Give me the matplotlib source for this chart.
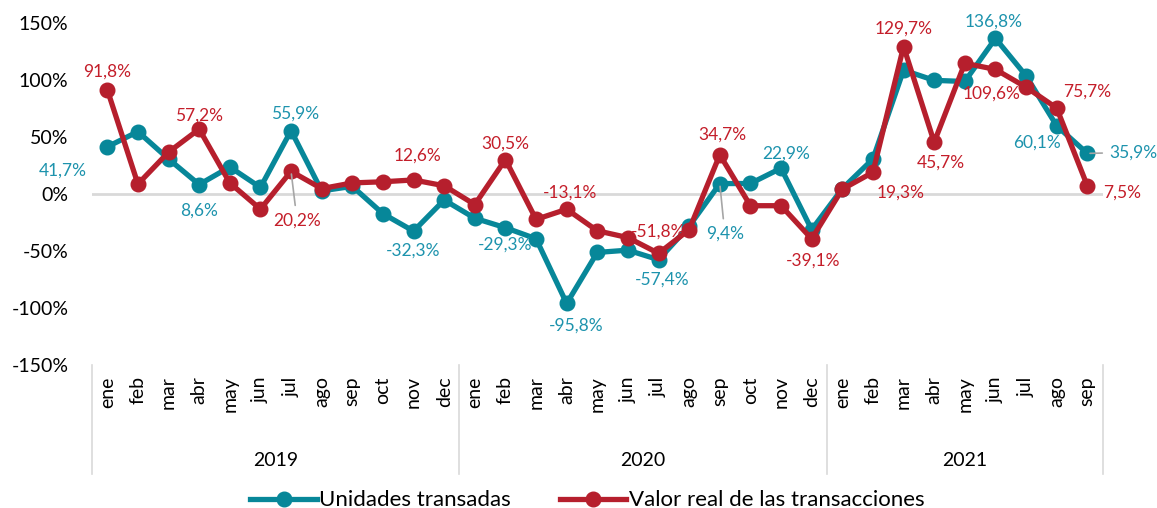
import numpy as np
import matplotlib.pyplot as plt
from matplotlib.lines import Line2D

plt.rcParams['font.family'] = ['Lato', 'DejaVu Sans']

# datos
meses = ["ene", "feb", "mar", "abr", "may", "jun", "jul", "ago", "sep", "oct", "nov", "dec"]
anios = ["2019", "2020", "2021"]
n_meses = [12, 12, 9]

unidades = [41.7, 55, 31, 8.6, 24, 6, 55.9, 3, 7, -17, -32.3, -5,
            -21, -29.3, -39, -95.8, -51, -49, -57.4, -28, 9.4, 9.5, 22.9, -31,
            5, 31, 109, 100, 99, 136.8, 104, 60.1, 35.9]
valor_real = [91.8, 9, 37, 57.2, 10, -13, 20.2, 5, 10, 11, 12.6, 7.5,
              -9, 30.5, -22, -13.1, -32, -38, -51.8, -31, 34.7, -10, -10, -39.1,
              4.5, 19.3, 129.7, 45.7, 115, 109.6, 94, 75.7, 7.5]

etiquetas = [meses[i % 12] for i in range(len(unidades))]

c_uni = "#078799"
c_val = "#b61f2d"
c_uni_txt = "#1d93ad"
c_val_txt = "#c41e2a"

# etiquetas de datos: (serie, indice, dx, dy, linea guia) en pixeles
rotulos = [
    ("u", 0, -45, -24, False), ("v", 0, 0, 18, False),
    ("v", 3, 0, 13, False), ("u", 3, 0, -26, False),
    ("u", 6, 4, 17, False), ("v", 6, 6, -49, True),
    ("v", 10, 4, 24, False), ("u", 10, 0, -20, False),
    ("u", 13, 0, -17, False), ("v", 13, 0, 16, False),
    ("v", 15, 3, 17, False), ("u", 15, 10, -22, False),
    ("v", 18, 0, 22, False), ("u", 18, 4, -20, False),
    ("v", 20, 3, 20, False), ("u", 20, 5, -50, True),
    ("u", 22, 5, 15, False), ("v", 23, 1, -22, False),
    ("v", 25, 28, -20, False), ("v", 26, 0, 18, False),
    ("v", 27, 7, -20, False), ("u", 29, -2, 17, False),
    ("v", 29, -4, -24, False), ("v", 31, 31, 16, False),
    ("u", 31, -20, -17, False), ("u", 32, 46, 1, True),
    ("v", 32, 35, -7, False),
]

fig = plt.figure(figsize=(11.57, 5.08), dpi=100)
ax = fig.add_axes([0.0795, 0.281, 0.8735, 0.673])

x = np.arange(len(unidades))
ax.axhline(0, color="#d9d9d9", lw=2, zorder=1)
ax.plot(x, unidades, color=c_uni, lw=3.8, marker="o", ms=10.5, zorder=3,
        label="Unidades transadas")
ax.plot(x, valor_real, color=c_val, lw=3.8, marker="o", ms=10.5, zorder=4,
        label="Valor real de las transacciones")

for serie, i, dx, dy, guia in rotulos:
    datos = unidades if serie == "u" else valor_real
    col = c_uni_txt if serie == "u" else c_val_txt
    txt = ("%.1f%%" % datos[i]).replace(".", ",")
    props = None
    if guia:
        props = dict(arrowstyle="-", color="#a6a6a6", lw=1.2, shrinkA=3, shrinkB=2)
    ax.annotate(txt, (i, datos[i]), xytext=(dx, dy), textcoords="offset pixels",
                ha="center", va="center", color=col, fontsize=12.5,
                arrowprops=props, zorder=5)

ax.set_xlim(-0.5, 32.5)
ax.set_ylim(-150, 150)
ax.set_yticks([-150, -100, -50, 0, 50, 100, 150])
ax.set_yticklabels(["%d%%" % v for v in [-150, -100, -50, 0, 50, 100, 150]])
ax.tick_params(axis="y", length=0, labelsize=14, pad=17)
ax.set_xticks(x)
ax.set_xticklabels(etiquetas, rotation=90, fontsize=14, va="top")
ax.tick_params(axis="x", length=0, pad=8)
for s in ax.spines.values():
    s.set_visible(False)

# separadores y anios
tr = ax.get_xaxis_transform()
bordes = [-0.5, 11.5, 23.5, 32.5]
for b in bordes:
    ax.add_line(Line2D([b, b], [0, -0.318], transform=tr, color="#d9d9d9",
                       lw=1.2, clip_on=False))
inicio = 0
for a, n in zip(anios, n_meses):
    ax.text(inicio + (n - 1) / 2, -0.28, a, transform=tr, ha="center",
            va="center", fontsize=14)
    inicio += n

ax.legend(loc="center", bbox_to_anchor=(0.49, -0.395), ncol=2, frameon=False,
          fontsize=16, handlelength=3.0, columnspacing=2.2, handletextpad=0.1)

fig.savefig("out.png", dpi=100)
